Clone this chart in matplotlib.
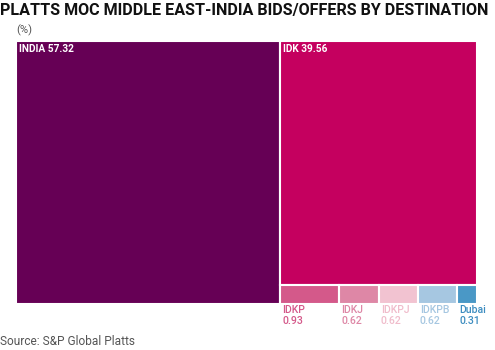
import matplotlib.pyplot as plt
from matplotlib.patches import Rectangle
from matplotlib.transforms import offset_copy

# data
big_names = ["INDIA", "IDK"]
big_values = [57.32, 39.56]
small_names = ["IDKP", "IDKJ", "IDKPJ", "IDKPB", "Dubai"]
small_values = [0.93, 0.62, 0.62, 0.62, 0.31]

big_colors = ["#660055", "#C5005F"]
small_colors = ["#D4598A", "#DE87A6", "#F2C3D1", "#A6C7E1", "#4A98C6"]
small_text_colors = ["#D4598A", "#DE87A6", "#F0BCCB", "#A6C7E1", "#3D8DC0"]

plt.rcParams["font.family"] = ["Roboto", "DejaVu Sans"]

W, H = 495, 350
fig = plt.figure(figsize=(W / 100, H / 100), dpi=100)

left, right, top, bottom = 16, 477, 41, 304
ax = fig.add_axes([left / W, 1 - bottom / H, (right - left) / W, (bottom - top) / H])

total = sum(big_values) + sum(small_values)
rest = total - big_values[0]
ax.set_xlim(0, total)
ax.set_ylim(1, 0)
ax.axis("off")

# INDIA: full-height slice on the left
ax.add_patch(Rectangle((0, 0), big_values[0], 1, facecolor=big_colors[0],
                       edgecolor="white", linewidth=1.5))
# IDK: top part of the remaining column
idk_h = big_values[1] / rest
ax.add_patch(Rectangle((big_values[0], 0), rest, idk_h, facecolor=big_colors[1],
                       edgecolor="white", linewidth=1.5))

for i, (name, v) in enumerate(zip(big_names, big_values)):
    x0 = 0 if i == 0 else big_values[0]
    t = offset_copy(ax.transData, fig=fig, x=3, y=-3, units="dots")
    ax.text(x0, 0, f"{name} {v:.2f}", transform=t, color="white",
            fontsize=7.3, fontweight="bold", ha="left", va="top")

# bottom row of small tiles
row_h = 1 - idk_h
x = big_values[0]
for name, v, c, tc in zip(small_names, small_values, small_colors, small_text_colors):
    w = v / sum(small_values) * rest
    ax.add_patch(Rectangle((x, idk_h), w, row_h, facecolor=c,
                           edgecolor="white", linewidth=1.5))
    t = offset_copy(ax.transData, fig=fig, x=2, y=-1, units="dots")
    ax.text(x, 1, f"{name}\n{v:.2f}", transform=t, color=tc, fontsize=7.6,
            fontweight="medium", ha="left", va="top", linespacing=1.1, clip_on=False)
    x += w

fig.text(0 / W, 1 - 3 / H, "PLATTS MOC MIDDLE EAST-INDIA BIDS/OFFERS BY DESTINATION",
         fontsize=11.6, fontweight="bold", ha="left", va="top", color="#111111")
fig.text(16 / W, 1 - 24 / H, "(%)", fontsize=8, color="#555555", ha="left", va="top")
fig.text(0, 1 - 335 / H, "Source: S&P Global Platts", fontsize=8.6, color="#555555",
         ha="left", va="top")

fig.savefig("out.png", dpi=100)
